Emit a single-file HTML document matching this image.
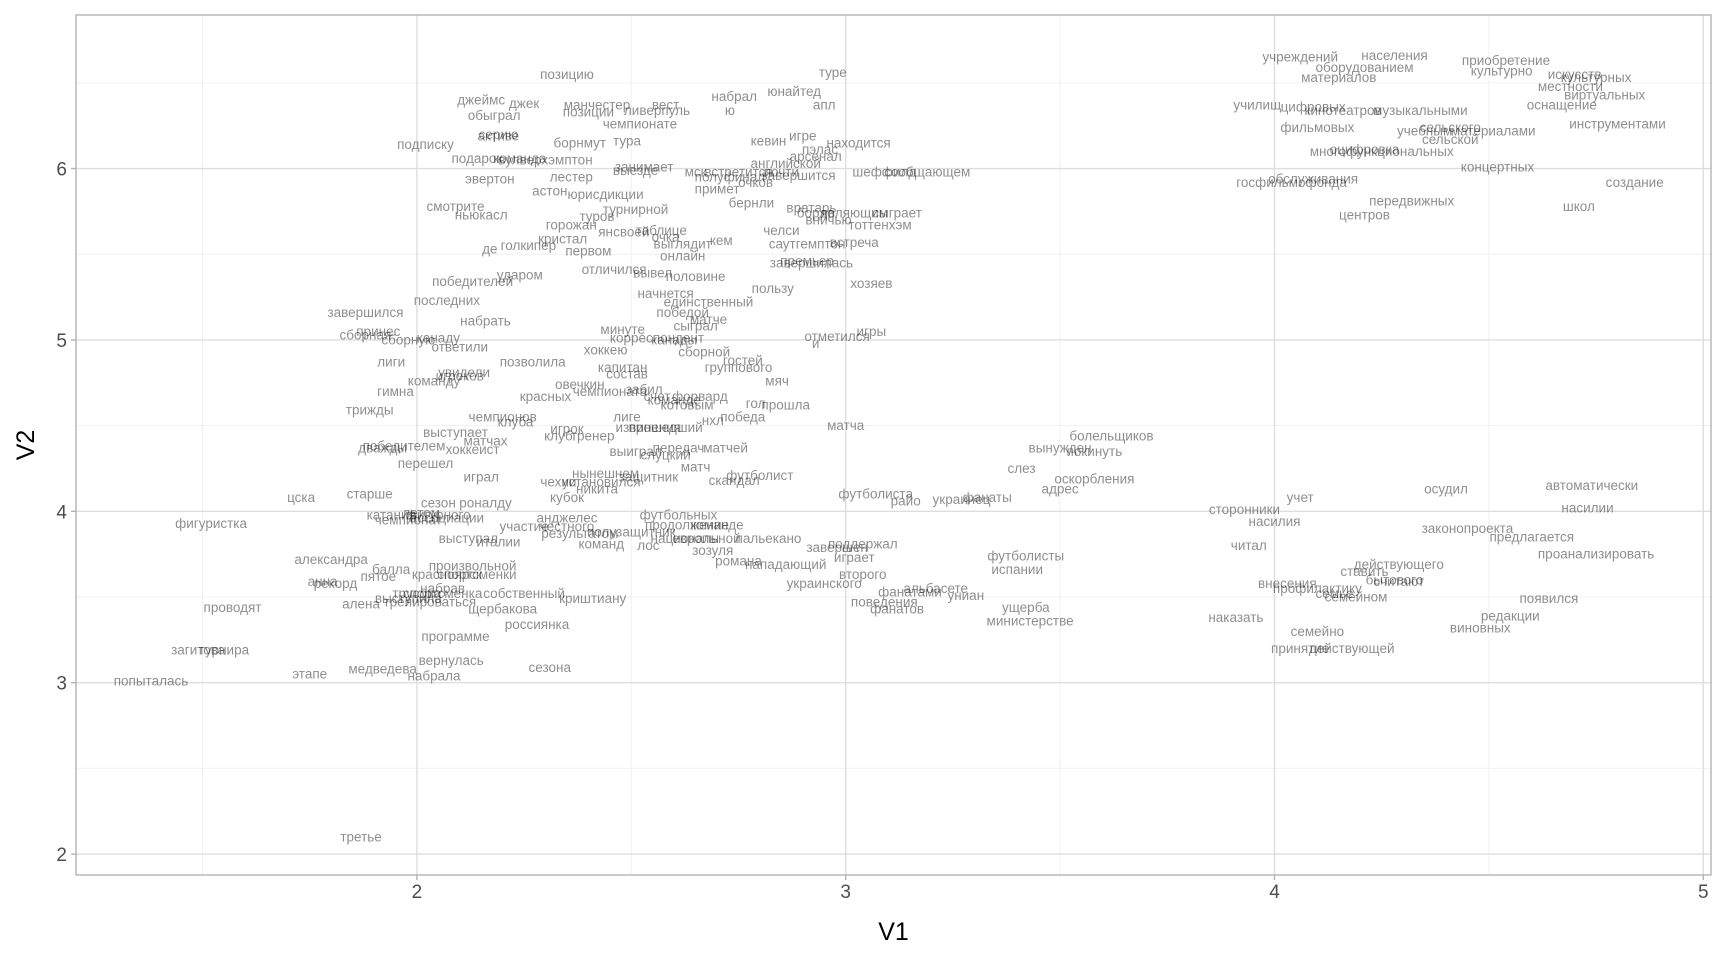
<!DOCTYPE html>
<html><head><meta charset="utf-8"><style>
html,body{margin:0;padding:0;background:#fff}
svg{display:block;font-family:"Liberation Sans","DejaVu Sans",sans-serif}
</style></head><body>
<svg id="chart" width="1728" height="960" viewBox="0 0 1728 960"></svg>
<script>
const words = ["позицию","туре","джеймс","джек","манчестер","позиции","ливерпуль","вест","набрал","ю","юнайтед","апл","обыграл","чемпионате","серию","активе","борнмут","тура","подписку","кевин","игре","находится","пэлас","арсенал","подарок","команда","вулверхэмптон","эвертон","лестер","выезде","занимает","мск","встретится","английской","почти","полуфинал","очков","завершится","шеффилд","сообщающем","астон","юрисдикции","примет","бернли","смотрите","ньюкасл","турнирной","вратарь","бордо","являющим","сыграет","вничью","тоттенхэм","горожан","туров","ян","своей","таблице","очка","выглядит","кем","челси","кристал","первом","де","голкипер","саутгемптон","встреча","онлайн","премьер","завершилась","отличился","вывел","ударом","половине","победителей","хозяев","пользу","начнется","единственный","последних","завершился","победой","матче","набрать","сыграл","минуте","принес","сборная","сборную","канаду","корреспондент","канады","отметился","игры","и","ответили","хоккею","сборной","гостей","позволила","лиги","капитан","состав","группового","увидели","игроков","команду","мяч","овечкин","чемпионата","забил","гимна","красных","счет","команде","форвард","котовым","гол","прошла","победа","трижды","чемпионов","клуба","лиге","нхл","матча","игрок","клуб","тренер","извинения","прошедший","выступает","победителем","дважды","матчах","хоккеист","выиграл","передач","слуцкий","матчей","перешел","матч","играл","нынешнем","защитник","чехии","установился","никита","скандал","футболист","кубок","футболиста","райо","украинец","фанаты","старше","цска","сезон","роналду","катания","летом","фигурного","чемпионат","ассоциации","футбольных","анджелес","участие","честного","результатом","полузащитник","продолжение","команде","фигуристка","выступал","италии","национальной","европы","пальекано","команд","лос","зозуля","завершен","поддержал","играет","романа","нападающий","александра","балла","произвольной","красноярск","спортсменки","пятое","второго","анна","рекорд","набрав","трусова","спортсменка","собственный","украинского","альбасете","фанатами","униан","выступила","тренироваться","алена","щербакова","криштиану","поведения","фанатов","ущерба","министерстве","проводят","россиянка","программе","загитова","турнира","медведева","вернулась","набрала","сезона","этапе","попыталась","третье","учреждений","населения","оборудованием","материалов","приобретение","культурно","искусств","культурных","местности","виртуальных","училищ","цифровых","кинотеатров","музыкальными","оснащение","фильмовых","учебным","сельского","сельской","материалами","инструментами","оцифровка","многофункциональных","концертных","госфильмофонда","обслуживания","создание","передвижных","школ","центров","болельщиков","вынужден","покинуть","слез","оскорбления","адрес","футболисты","испании","осудил","автоматически","учет","насилии","сторонники","насилия","законопроекта","предлагается","читал","проанализировать","действующего","ставить","бытового","считают","внесения","профилактику","семье","семейном","появился","редакции","наказать","виновных","семейно","принятие","действующей"];
const v1 = [2.35,2.97,2.15,2.25,2.42,2.40,2.56,2.58,2.74,2.73,2.88,2.95,2.18,2.52,2.19,2.19,2.38,2.49,2.02,2.82,2.90,3.03,2.94,2.93,2.14,2.24,2.30,2.17,2.36,2.51,2.53,2.65,2.75,2.86,2.85,2.73,2.79,2.89,3.09,3.19,2.31,2.44,2.70,2.78,2.09,2.15,2.51,2.92,2.93,3.02,3.12,2.96,3.08,2.36,2.42,2.44,2.50,2.57,2.58,2.62,2.71,2.85,2.34,2.40,2.17,2.26,2.91,3.02,2.62,2.91,2.92,2.46,2.55,2.24,2.65,2.13,3.06,2.83,2.58,2.68,2.07,1.88,2.62,2.68,2.16,2.65,2.48,1.91,1.88,1.98,2.05,2.56,2.60,2.98,3.06,2.93,2.10,2.44,2.67,2.76,2.27,1.94,2.48,2.49,2.75,2.11,2.10,2.04,2.84,2.38,2.45,2.53,1.95,2.30,2.56,2.60,2.66,2.63,2.79,2.86,2.76,1.89,2.20,2.23,2.49,2.69,3.00,2.35,2.33,2.41,2.54,2.58,2.09,1.97,1.92,2.16,2.13,2.51,2.61,2.58,2.72,2.02,2.65,2.15,2.44,2.54,2.33,2.43,2.42,2.74,2.80,2.35,3.07,3.14,3.27,3.33,1.89,1.73,2.05,2.16,1.94,2.01,2.05,1.98,2.07,2.61,2.35,2.25,2.35,2.38,2.50,2.63,2.70,1.52,2.12,2.19,2.65,2.65,2.82,2.43,2.54,2.69,2.98,3.04,3.02,2.75,2.86,1.80,1.94,2.13,2.07,2.14,1.91,3.04,1.78,1.81,2.06,2.00,2.06,2.25,2.95,3.21,3.15,3.28,1.98,2.03,1.87,2.20,2.41,3.09,3.12,3.42,3.43,1.57,2.28,2.09,1.49,1.55,1.92,2.08,2.04,2.31,1.75,1.38,1.87,4.06,4.28,4.21,4.15,4.54,4.53,4.70,4.75,4.69,4.77,3.96,4.09,4.16,4.34,4.67,4.10,4.35,4.41,4.41,4.51,4.80,4.21,4.25,4.52,4.04,4.09,4.84,4.32,4.71,4.21,3.62,3.50,3.58,3.41,3.58,3.50,3.42,3.40,4.40,4.74,4.06,4.73,3.93,4.00,4.45,4.60,3.94,4.75,4.29,4.21,4.28,4.29,4.03,4.10,4.14,4.19,4.64,4.55,3.91,4.48,4.10,4.06,4.18];
const v2 = [6.55,6.56,6.40,6.38,6.37,6.33,6.34,6.37,6.42,6.34,6.45,6.37,6.31,6.26,6.20,6.19,6.15,6.16,6.14,6.16,6.19,6.15,6.11,6.07,6.06,6.06,6.05,5.94,5.95,5.99,6.01,5.98,5.98,6.03,5.98,5.95,5.92,5.96,5.98,5.98,5.87,5.85,5.88,5.80,5.78,5.73,5.76,5.77,5.74,5.74,5.74,5.70,5.67,5.67,5.72,5.63,5.63,5.64,5.60,5.56,5.58,5.64,5.59,5.52,5.53,5.55,5.56,5.57,5.49,5.46,5.45,5.41,5.39,5.38,5.37,5.34,5.33,5.30,5.27,5.22,5.23,5.16,5.16,5.12,5.11,5.08,5.06,5.05,5.03,5.00,5.01,5.01,5.00,5.02,5.05,4.98,4.96,4.94,4.93,4.88,4.87,4.87,4.84,4.80,4.84,4.81,4.79,4.76,4.76,4.74,4.70,4.71,4.70,4.67,4.67,4.65,4.67,4.62,4.63,4.62,4.55,4.59,4.55,4.52,4.55,4.53,4.50,4.48,4.44,4.44,4.49,4.49,4.46,4.38,4.37,4.41,4.36,4.35,4.37,4.33,4.37,4.28,4.26,4.20,4.22,4.20,4.17,4.17,4.13,4.18,4.21,4.08,4.10,4.06,4.07,4.08,4.10,4.08,4.05,4.05,3.98,3.99,3.98,3.95,3.96,3.98,3.96,3.91,3.91,3.87,3.88,3.92,3.92,3.93,3.84,3.82,3.84,3.84,3.84,3.81,3.80,3.77,3.79,3.81,3.73,3.71,3.69,3.72,3.66,3.68,3.63,3.63,3.62,3.63,3.59,3.58,3.55,3.52,3.52,3.52,3.58,3.55,3.53,3.51,3.49,3.47,3.46,3.43,3.49,3.47,3.43,3.44,3.36,3.44,3.34,3.27,3.19,3.19,3.08,3.13,3.04,3.09,3.05,3.01,2.10,6.65,6.66,6.59,6.53,6.63,6.57,6.55,6.53,6.48,6.43,6.37,6.36,6.34,6.34,6.37,6.24,6.22,6.24,6.17,6.22,6.26,6.11,6.10,6.01,5.92,5.94,5.92,5.81,5.78,5.73,4.44,4.37,4.35,4.25,4.19,4.13,3.74,3.66,4.13,4.15,4.08,4.02,4.01,3.94,3.90,3.85,3.80,3.75,3.69,3.65,3.60,3.59,3.58,3.55,3.52,3.50,3.49,3.39,3.38,3.32,3.30,3.20,3.20];
const xTicks = [2,3,4,5];
const yTicks = [2,3,4,5,6];
const xMinor = [1.5,2.5,3.5,4.5];
const yMinor = [2.5,3.5,4.5,5.5,6.5];

const NS = "http://www.w3.org/2000/svg";
const svg = document.getElementById('chart');
const L = 76, R = 1711, T = 15, B = 875;
const xMin = 1.205, xMax = 5.018, yMin = 1.878, yMax = 6.896;
const sx = v => L + (v - xMin) / (xMax - xMin) * (R - L);
const sy = v => B - (v - yMin) / (yMax - yMin) * (B - T);
function mk(tag, attrs, parent) {
  const e = document.createElementNS(NS, tag);
  for (const k in attrs) e.setAttribute(k, attrs[k]);
  (parent || svg).appendChild(e);
  return e;
}
const grid = mk('g', {});


xMinor.forEach(v => { const l = mk('line', {x1: sx(v), x2: sx(v), y1: T, y2: B, stroke: '#f0f0f0', 'stroke-width': 1}, grid);   });
yMinor.forEach(v => { const l = mk('line', {x1: L, x2: R, y1: sy(v), y2: sy(v), stroke: '#f0f0f0', 'stroke-width': 1}, grid);   });
xTicks.forEach(v => { const l = mk('line', {x1: sx(v), x2: sx(v), y1: T, y2: B, stroke: '#dedede', 'stroke-width': 1.4}, grid);   });
yTicks.forEach(v => { const l = mk('line', {x1: L, x2: R, y1: sy(v), y2: sy(v), stroke: '#dedede', 'stroke-width': 1.4}, grid);   });

const pts = mk('g', {'font-size': '13.5', fill: '#000', 'fill-opacity': '0.45', 'text-anchor': 'middle', 'dominant-baseline': 'central'});


words.forEach((w, i) => {
  const t = mk('text', {x: sx(v1[i]).toFixed(1), y: sy(v2[i]).toFixed(1)}, pts);
  
  
  t.textContent = w;
});

const border = mk('rect', {x: L, y: T, width: R - L, height: B - T, fill: 'none', stroke: '#b3b3b3', 'stroke-width': 1.4});



const xa = mk('g', {});


xTicks.forEach(v => {
  const tk = mk('line', {x1: sx(v), x2: sx(v), y1: B, y2: B + 5, stroke: '#b3b3b3', 'stroke-width': 1.4}, xa);
  
  
  const t = mk('text', {x: sx(v), y: B + 23, 'font-size': '19', fill: '#4d4d4d', 'text-anchor': 'middle'}, xa);
  
  
  t.textContent = v;
});
const ya = mk('g', {});


yTicks.forEach(v => {
  const tk = mk('line', {x1: L - 5, x2: L, y1: sy(v), y2: sy(v), stroke: '#b3b3b3', 'stroke-width': 1.4}, ya);
  
  
  const t = mk('text', {x: L - 9, y: sy(v) + 7, 'font-size': '19', fill: '#4d4d4d', 'text-anchor': 'end'}, ya);
  
  
  t.textContent = v;
});
const xt = mk('text', {x: (L + R) / 2, y: 940, 'font-size': '25', fill: '#000', 'text-anchor': 'middle'});


xt.textContent = 'V1';
const yt = mk('text', {x: 0, y: 0, 'font-size': '25', fill: '#000', 'text-anchor': 'middle', transform: `translate(34,${(T + B) / 2}) rotate(-90)`});


yt.textContent = 'V2';
</script>
</body></html>
